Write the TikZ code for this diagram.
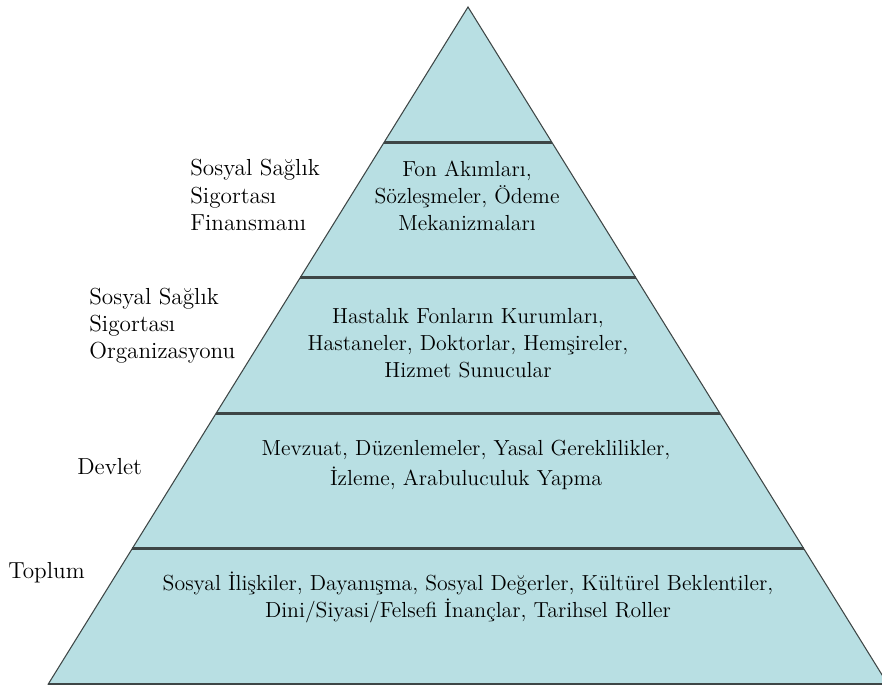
\documentclass[tikz,border=0pt]{standalone}
\usepackage{fontspec}
\usepackage{tikz}
\usetikzlibrary{calc}
\definecolor{pyrfill}{HTML}{B8DFE3}
\definecolor{pyrline}{HTML}{3E4646}

\begin{document}
\begin{tikzpicture}[x=0.02cm, y=-0.02cm,
    bandtext/.style={font=\fontsize{12.4}{15.4}\selectfont, align=center, inner sep=0pt},
    sidetext/.style={font=\fontsize{13.2}{15.4}\selectfont, align=left, anchor=west, inner sep=0pt},
    divider/.style={draw=pyrline, line width=1.6pt}]

  %% canvas 882 x 686 px, y grows downwards
  \clip (0,0) rectangle (882,686);

  %% pyramid outline
  \coordinate (apex) at (468,7);
  \coordinate (baseL) at (48.3,684);
  \coordinate (baseR) at (887.7,684);
  \fill[pyrfill, draw=pyrline, line width=0.6pt] (apex) -- (baseL) -- (baseR) -- cycle;
  \draw[divider] (baseL) -- (baseR);

  %% four levels, equal height
  \foreach \t in {0.2,0.4,0.6,0.8}
    \draw[divider] ($(apex)!\t!(baseL)$) -- ($(apex)!\t!(baseR)$);

  %% texts inside the levels
  \node[bandtext] (fon) at (467,196)
    {Fon Akımları,\\Sözleşmeler, Ödeme\\Mekanizmaları};
  \node[bandtext] (hastalik) at (468,343)
    {Hastalık Fonların Kurumları,\\Hastaneler, Doktorlar, Hemşireler,\\Hizmet Sunucular};
  \node[bandtext] (mevzuat) at (466,465)
    {Mevzuat, Düzenlemeler, Yasal Gereklilikler,\\[0.05cm]İzleme, Arabuluculuk Yapma};
  \node[bandtext] (sosyal) at (468,597)
    {Sosyal İlişkiler, Dayanışma, Sosyal Değerler, Kültürel Beklentiler,\\Dini/Siyasi/Felsefi İnançlar, Tarihsel Roller};

  %% labels on the left
  \node[sidetext] (finans) at (190,195) {Sosyal Sağlık\\Sigortası\\Finansmanı};
  \node[sidetext] (organ) at (89,326) {Sosyal Sağlık\\Sigortası\\Organizasyonu};
  \node[sidetext] (devlet) at (77,467) {Devlet};
  \node[sidetext] (toplum) at (8,573) {Toplum};

\end{tikzpicture}
\end{document}
